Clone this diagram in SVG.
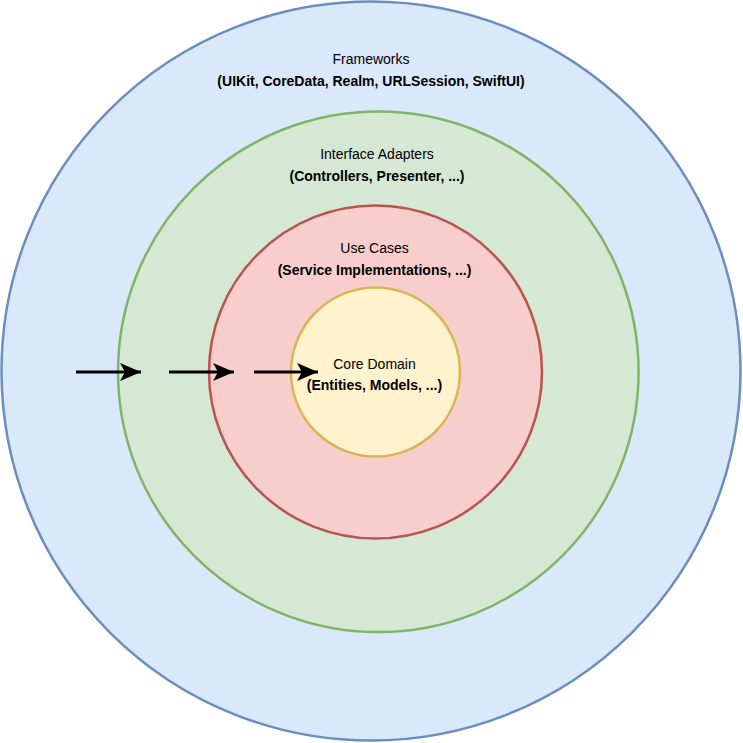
<svg xmlns="http://www.w3.org/2000/svg" width="743" height="743" viewBox="0 0 743 743">
<defs>
<style>
text{font-family:"Liberation Sans",Arial,Helvetica,sans-serif;font-size:14px;fill:#000;text-anchor:middle}
.b{font-weight:bold}
.c{stroke-width:2.5}
.arr{stroke:#000;stroke-width:3;fill:none}
</style>
<marker id="ah" markerUnits="userSpaceOnUse" markerWidth="24" markerHeight="20" refX="21" refY="9" orient="auto">
<path d="M0,0 L21,9 L0,18 L5,9 Z" fill="#000"/>
</marker>
</defs>
<g id="frameworks">
<circle class="c" cx="371" cy="371" r="369.5" fill="#dae8fc" stroke="#6c8ebf"/>
<text x="371" y="64">Frameworks</text>
<text class="b" x="371" y="86">(UIKit, CoreData, Realm, URLSession, SwiftUI)</text>
</g>
<g id="interface-adapters">
<circle class="c" cx="378.3" cy="371.8" r="260.3" fill="#d5e8d4" stroke="#82b366"/>
<text x="377" y="159">Interface Adapters</text>
<text class="b" x="377" y="181">(Controllers, Presenter, ...)</text>
</g>
<g id="use-cases">
<circle class="c" cx="375.5" cy="372" r="166.5" fill="#f8cecc" stroke="#b85450"/>
<text x="374.5" y="253">Use Cases</text>
<text class="b" x="374.5" y="275">(Service Implementations, ...)</text>
</g>
<g id="core-domain">
<circle class="c" cx="375.5" cy="372" r="84.5" fill="#fff2cc" stroke="#d6b656"/>
<text x="374.5" y="369">Core Domain</text>
<text class="b" x="374.5" y="390">(Entities, Models, ...)</text>
</g>
<g id="connectors">
<line class="arr" x1="76" y1="372" x2="141" y2="372" marker-end="url(#ah)"/>
<line class="arr" x1="169" y1="372" x2="234" y2="372" marker-end="url(#ah)"/>
<line class="arr" x1="254" y1="372" x2="318" y2="372" marker-end="url(#ah)"/>
</g>
</svg>
